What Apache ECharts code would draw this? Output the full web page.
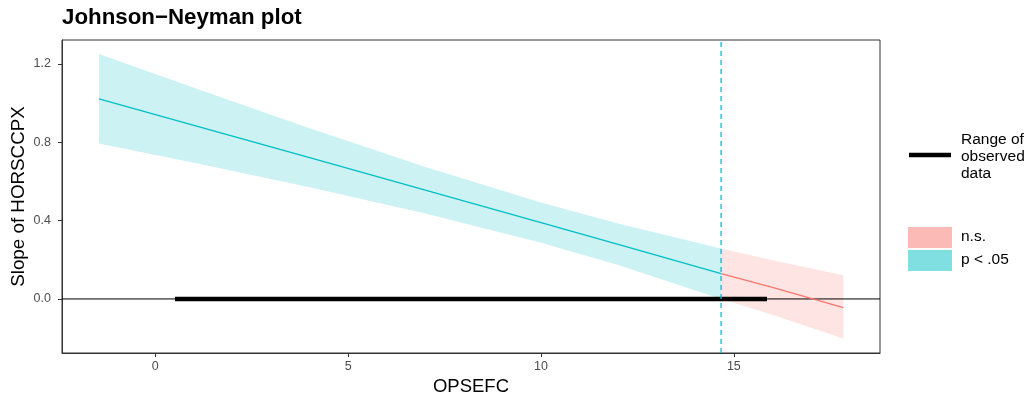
<!DOCTYPE html>
<html>
<head>
<meta charset="utf-8">
<script src="https://cdn.jsdelivr.net/npm/echarts@6/dist/echarts.min.js"></script>
<style>
  html, body { margin: 0; padding: 0; background: #fff; }
  #chart { width: 1033px; height: 398px; }
</style>
</head>
<body>
<div id="chart"></div>
<script>
// Johnson-Neyman plot: slope of HORSCCPX across OPSEFC
const xTicks = [0, 5, 10, 15];
const yTicks = [0, 0.4, 0.8, 1.2];

// significant region (p < .05)
const sigX = [-1.46, 1, 4, 7, 10, 12, 14.67];
const sigSlope = [1.022, 0.886, 0.721, 0.555, 0.390, 0.279, 0.129];
const sigUpper = [1.250, 1.078, 0.872, 0.674, 0.493, 0.385, 0.257];
const sigLower = [0.794, 0.695, 0.570, 0.436, 0.287, 0.173, 0.0];

// non-significant region (n.s.)
const nsX = [14.67, 16, 17.84];
const nsSlope = [0.129, 0.0585, -0.044];
const nsUpper = [0.257, 0.197, 0.121];
const nsLower = [0.0, -0.081, -0.202];

const jnPoint = 14.67;           // boundary of significance
const observedRange = [0.51, 15.86];

const xMin = -2.42, xMax = 18.79;
const yMin = -0.276, yMax = 1.322;

const cyan = '#00BFC4';
const red = '#F8766D';
const font = 'Liberation Sans, Arial, sans-serif';

function pairs(xs, ys) {
  return xs.map((x, i) => [x, ys[i]]);
}

// band polygon drawn through the axes
function bandSeries(xs, up, lo, color) {
  return {
    type: 'custom',
    silent: true,
    clip: true,
    z: 1,
    data: [0],
    renderItem: function (params, api) {
      let pts = [];
      for (let i = 0; i < xs.length; i++) pts.push(api.coord([xs[i], up[i]]));
      for (let i = xs.length - 1; i >= 0; i--) pts.push(api.coord([xs[i], lo[i]]));
      return {
        type: 'polygon',
        shape: { points: pts },
        style: { fill: color, opacity: 0.2 }
      };
    }
  };
}

const chart = echarts.init(document.getElementById('chart'), null, { renderer: 'canvas' });

chart.setOption({
  animation: false,
  backgroundColor: '#fff',
  textStyle: { fontFamily: font },
  title: {
    text: 'Johnson\u2212Neyman plot',
    left: 62,
    top: 7,
    padding: 0,
    textStyle: { fontSize: 22.3, fontWeight: 'bold', color: '#000', fontFamily: font }
  },
  grid: {
    left: 62, right: 153, top: 40, bottom: 45,
    outerBoundsMode: 'none',
    containLabel: false,
    show: true, borderColor: '#333', borderWidth: 1, backgroundColor: 'transparent'
  },
  xAxis: {
    type: 'value',
    min: xMin, max: xMax,
    name: 'OPSEFC',
    nameLocation: 'middle',
    nameGap: 24,
    nameMoveOverlap: false,
    nameTextStyle: { fontSize: 18.5, color: '#000' },
    splitLine: { show: false },
    axisLine: { show: true, onZero: false, lineStyle: { color: '#333', width: 1 } },
    axisTick: { show: true, length: 4, customValues: xTicks, lineStyle: { color: '#333' } },
    axisLabel: { customValues: xTicks, color: '#4D4D4D', fontSize: 12.5, margin: 7 }
  },
  yAxis: {
    type: 'value',
    min: yMin, max: yMax,
    name: 'Slope of HORSCCPX',
    nameLocation: 'middle',
    nameGap: 34,
    nameMoveOverlap: false,
    nameTextStyle: { fontSize: 18.8, color: '#000' },
    splitLine: { show: false },
    axisLine: { show: true, onZero: false, lineStyle: { color: '#333', width: 1 } },
    axisTick: { show: true, length: 4, customValues: yTicks, lineStyle: { color: '#333' } },
    axisLabel: {
      customValues: yTicks, color: '#4D4D4D', fontSize: 12.5, margin: 11,
      formatter: v => v.toFixed(1)
    }
  },
  series: [
    bandSeries(sigX, sigUpper, sigLower, cyan),
    bandSeries(nsX, nsUpper, nsLower, red),
    {
      type: 'line', name: 'zero', silent: true, symbol: 'none', z: 2,
      data: [[xMin, 0], [xMax, 0]],
      lineStyle: { color: '#000', width: 1 }
    },
    {
      type: 'line', name: 'Range of observed data', silent: true, symbol: 'none', z: 3,
      data: [[observedRange[0], 0], [observedRange[1], 0]],
      lineStyle: { color: '#000', width: 4.5, cap: 'butt' }
    },
    {
      type: 'line', name: 'p < .05', silent: true, symbol: 'none', z: 4,
      data: pairs(sigX, sigSlope),
      lineStyle: { color: cyan, width: 1.3 }
    },
    {
      type: 'line', name: 'n.s.', silent: true, symbol: 'none', z: 4,
      data: pairs(nsX, nsSlope),
      lineStyle: { color: red, width: 1.3 }
    },
    {
      type: 'line', name: 'jn', silent: true, symbol: 'none', z: 5,
      data: [[jnPoint, yMin], [jnPoint, yMax]],
      lineStyle: { color: cyan, width: 1.3, type: [5, 4] }
    }
  ],
  graphic: [
    { type: 'line', shape: { x1: 909, y1: 155, x2: 951, y2: 155 }, style: { stroke: '#000', lineWidth: 4.5 } },
    { type: 'text', left: 961, top: 131, style: { text: 'Range of\nobserved\ndata', fontSize: 15.5, lineHeight: 17, fill: '#000', fontFamily: font } },
    { type: 'rect', shape: { x: 908, y: 227, width: 44, height: 21 }, style: { fill: red, opacity: 0.5 } },
    { type: 'rect', shape: { x: 908, y: 250, width: 44, height: 21 }, style: { fill: cyan, opacity: 0.5 } },
    { type: 'text', left: 961, top: 229, style: { text: 'n.s.', fontSize: 15.5, fill: '#000', fontFamily: font } },
    { type: 'text', left: 961, top: 252, style: { text: 'p < .05', fontSize: 15.5, fill: '#000', fontFamily: font } }
  ]
});
</script>
</body>
</html>
